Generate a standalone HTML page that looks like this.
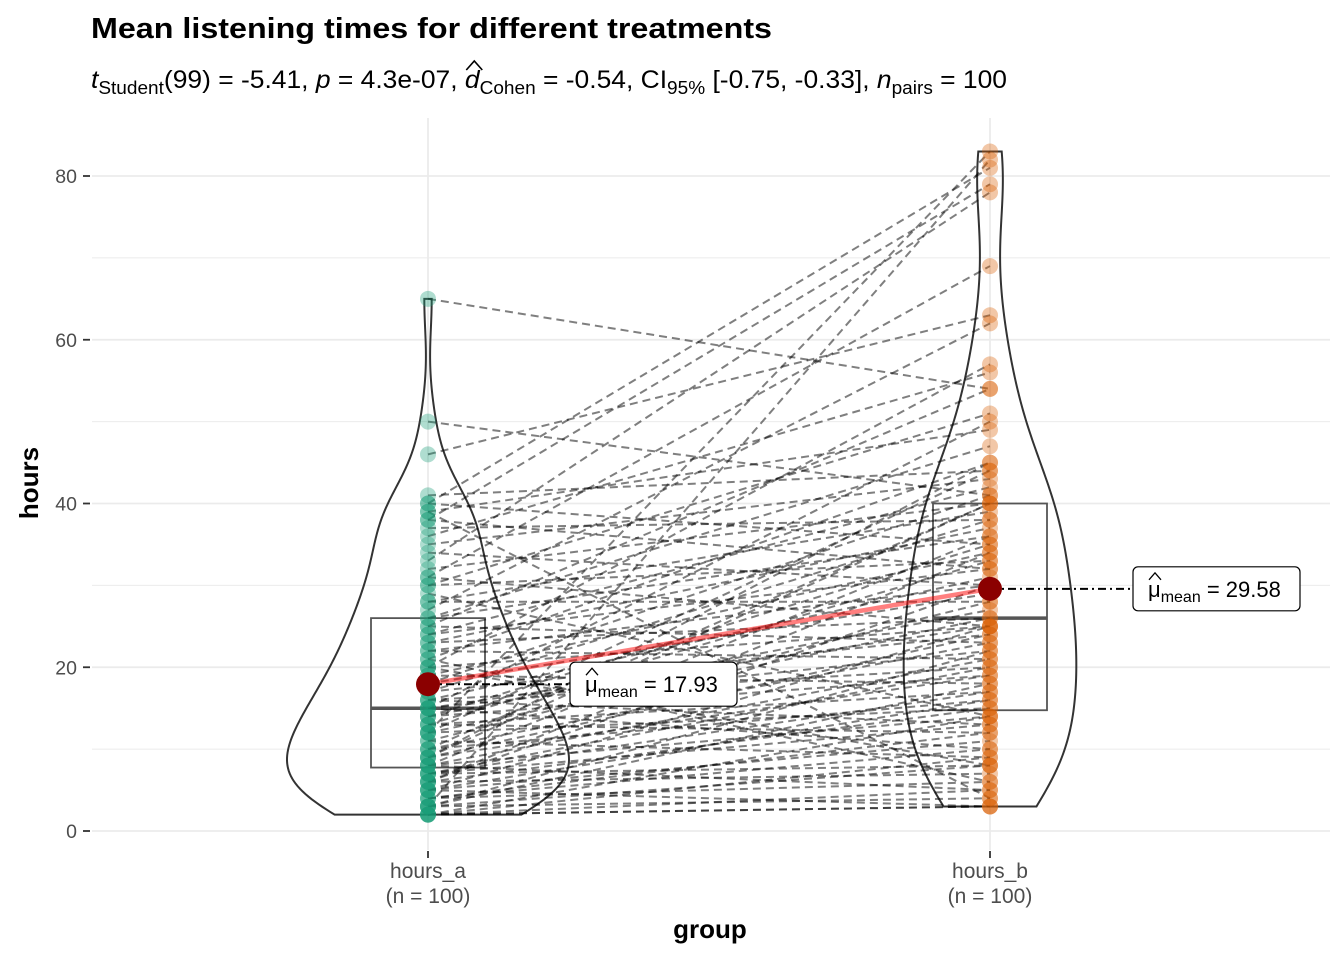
<!DOCTYPE html>
<html><head><meta charset="utf-8">
<style>
body{margin:0;background:#fff;font-family:"Liberation Sans",sans-serif;}
svg text{font-family:"Liberation Sans",sans-serif;}
</style></head>
<body>
<svg id="chart" width="1344" height="960" xmlns="http://www.w3.org/2000/svg">
<text x="91" y="38" font-size="29" font-weight="bold" fill="#000" textLength="681" lengthAdjust="spacingAndGlyphs">Mean listening times for different treatments</text>
<text id="sub" x="91" y="88" font-size="25" fill="#000" textLength="916" lengthAdjust="spacingAndGlyphs"><tspan font-style="italic">t</tspan><tspan font-size="18" dy="6">Student</tspan><tspan dy="-6">(99) = -5.41, </tspan><tspan font-style="italic">p</tspan><tspan> = 4.3e-07, </tspan><tspan id="dchar" font-style="italic">d</tspan><tspan font-size="18" dy="6">Cohen</tspan><tspan dy="-6"> = -0.54, CI</tspan><tspan font-size="18" dy="6">95%</tspan><tspan dy="-6"> [-0.75, -0.33], </tspan><tspan font-style="italic">n</tspan><tspan font-size="18" dy="6">pairs</tspan><tspan dy="-6"> = 100</tspan></text>
<path id="dhat" d="" fill="none" stroke="#000" stroke-width="1.6"/>
<g id="grid"></g><g id="axes"></g><g id="marks"></g><g id="labels"></g>
<text x="710" y="938" font-size="26" font-weight="bold" text-anchor="middle">group</text>
<text transform="translate(38,483) rotate(-90)" font-size="26" font-weight="bold" text-anchor="middle">hours</text>
</svg>
<script>
const groups = ["hours_a","hours_b"];
const yTicks = [0,20,40,60,80];
const hoursA = [2,2,2,2,3,3,3,3,4,4, 4,5,5,5,5,6,6,6,7,7, 7,7,8,8,8,8,9,9,10,10, 10,11,11,12,12,12,13,13,13,14, 14,14,15,15,15,15,16,16,17,17, 18,18,19,19,20,20,21,21,22,22, 23,23,24,24,25,25,26,26,27,28, 28,29,30,30,31,31,32,33,34,35, 36,37,38,38,39,39,40,40,41,46, 50,65,3,6,9,12,16,20,9,2];
const hoursB = [9,3,14,5,22,8,4,18,12,6, 10,25,3,16,11,7,30,15,13,20, 8,17,36,21,14,5,19,24,40,16, 23,9,28,15,26,44,17,33,12,27, 19,35,22,50,25,10,31,20,38,24, 29,41,18,34,57,25,6,45,21,30, 37,26,42,32,54,23,47,36,62,28, 39,14,51,33,69,25,40,78,30,43, 56,38,79,32,49,4,81,35,44,63, 41,54,82,34,40,83,13,8,45,3];

const NS="http://www.w3.org/2000/svg";
const y = v => 831 - v*8.1875;
const xg = i => 428 + i*562;
function mk(tag, attrs, parent){const e=document.createElementNS(NS,tag);for(const k in attrs)e.setAttribute(k,attrs[k]);document.getElementById(parent).appendChild(e);return e;}

const dEl=document.getElementById('dchar');
let hx=476;
try{const s=dEl.getStartPositionOfChar(0).x,e=dEl.getEndPositionOfChar(0).x;hx=(s+e)/2+2;}catch(err){}
document.getElementById('dhat').setAttribute('d',`M${hx-8} 70 L${hx} 61 L${hx+8} 70`);

for(let v=0; v<=80; v+=10){
  const g=mk('line',{x1:92,x2:1330,y1:y(v),y2:y(v),stroke:'#ebebeb','stroke-width':v%20===0?1.8:0.9},'grid');
  
  
}
groups.forEach((g,i)=>{
  const l=mk('line',{x1:xg(i),x2:xg(i),y1:118,y2:850,stroke:'#ebebeb','stroke-width':1.8},'grid');
  
  
});
yTicks.forEach(v=>{
  const t=mk('line',{x1:83,x2:90,y1:y(v),y2:y(v),stroke:'#333','stroke-width':1.8},'axes');
  
  
  const tx=mk('text',{x:77,y:y(v)+7,'font-size':19.5,fill:'#4d4d4d','text-anchor':'end'},'axes');
  tx.textContent=v;
  
  
});
const data=[hoursA,hoursB];
groups.forEach((g,i)=>{
  const t=mk('line',{x1:xg(i),x2:xg(i),y1:851,y2:858,stroke:'#333','stroke-width':1.8},'axes');
  
  
  const tx=mk('text',{x:xg(i),y:878,'font-size':21,fill:'#4d4d4d','text-anchor':'middle'},'axes');
  tx.textContent=g;
  
  
  const tn=mk('text',{x:xg(i),y:903,'font-size':21,fill:'#4d4d4d','text-anchor':'middle'},'axes');
  tn.textContent='(n = '+data[i].length+')';
  
  
});

function quant(arr,p){const s=[...arr].sort((a,b)=>a-b);const h=(s.length-1)*p;const lo=Math.floor(h);return s[lo]+(s[Math.min(lo+1,s.length-1)]-s[lo])*(h-lo);}
function sd(a){const m=a.reduce((s,v)=>s+v,0)/a.length;return Math.sqrt(a.reduce((s,v)=>s+(v-m)**2,0)/(a.length-1));}
function kde(arr){
  const n=arr.length, iqr=quant(arr,.75)-quant(arr,.25);
  const bw=0.9*Math.min(sd(arr),iqr/1.34)*Math.pow(n,-0.2);
  const mn=Math.min(...arr), mx=Math.max(...arr), pts=[];
  for(let k=0;k<=200;k++){const v=mn+(mx-mn)*k/200;let d=0;arr.forEach(a=>{const z=(v-a)/bw;d+=Math.exp(-z*z/2);});pts.push([v,d/(n*bw*Math.sqrt(2*Math.PI))]);}
  return pts;
}
const dens=data.map(kde);
const maxD=Math.max(...dens.map(p=>Math.max(...p.map(q=>q[1]))));
dens.forEach((pts,i)=>{
  const k=141/maxD;
  let d='M'+pts.map(p=>(xg(i)+p[1]*k)+','+y(p[0])).join(' L');
  d+=' L'+[...pts].reverse().map(p=>(xg(i)-p[1]*k)+','+y(p[0])).join(' L')+'Z';
  const v=mk('path',{d:d,fill:'none',stroke:'#333','stroke-width':2},'marks');
  
  
});
data.forEach((arr,i)=>{
  const q1=quant(arr,.25),q2=quant(arr,.5),q3=quant(arr,.75);
  const b=mk('rect',{x:xg(i)-57,y:y(q3),width:114,height:y(q1)-y(q3),fill:'none',stroke:'#555','stroke-width':1.8},'marks');
  
  
  const m=mk('line',{x1:xg(i)-57,x2:xg(i)+57,y1:y(q2),y2:y(q2),stroke:'#555','stroke-width':3.5},'marks');
  
  
});
hoursA.forEach((a,j)=>{
  const l=mk('line',{x1:xg(0),y1:y(a),x2:xg(1),y2:y(hoursB[j]),stroke:'rgba(0,0,0,0.5)','stroke-width':2,'stroke-dasharray':'8,5'},'marks');
  
  
});
const cols=['rgba(27,158,119,0.35)','rgba(217,95,2,0.35)'];
data.forEach((arr,i)=>arr.forEach(v=>{
  const c=mk('circle',{cx:xg(i),cy:y(v),r:8,fill:cols[i]},'marks');
  
  
}));
const means=data.map(a=>a.reduce((s,v)=>s+v,0)/a.length);
const ml=mk('line',{x1:xg(0),y1:y(means[0]),x2:xg(1),y2:y(means[1]),stroke:'rgba(255,0,0,0.5)','stroke-width':4.5},'marks');


const lblX=[570,1133];
means.forEach((m,i)=>{
  const lx=lblX[i], ly=y(m);
  const dl=mk('line',{x1:xg(i),y1:ly,x2:lx,y2:ly,stroke:'#000','stroke-width':2,'stroke-dasharray':'8,4,2,4'},'marks');
  
  
  const c=mk('circle',{cx:xg(i),cy:ly,r:12,fill:'#8b0000'},'marks');
  
  
  const r=mk('rect',{x:lx,y:ly-22,width:167,height:44,rx:5,fill:'#fff',stroke:'#000','stroke-width':1.2},'labels');
  
  
  const t=mk('text',{x:lx+15,y:ly+8,'font-size':22,fill:'#000'},'labels');
  t.innerHTML='μ<tspan font-size="16" dy="5">mean</tspan><tspan dy="-5"> = '+m.toFixed(2)+'</tspan>';
  
  
  const h=mk('path',{d:`M${lx+16} ${ly-9} L${lx+22} ${ly-16} L${lx+28} ${ly-9}`,fill:'none',stroke:'#000','stroke-width':1.3},'labels');
  
  
});
</script>
</body></html>
